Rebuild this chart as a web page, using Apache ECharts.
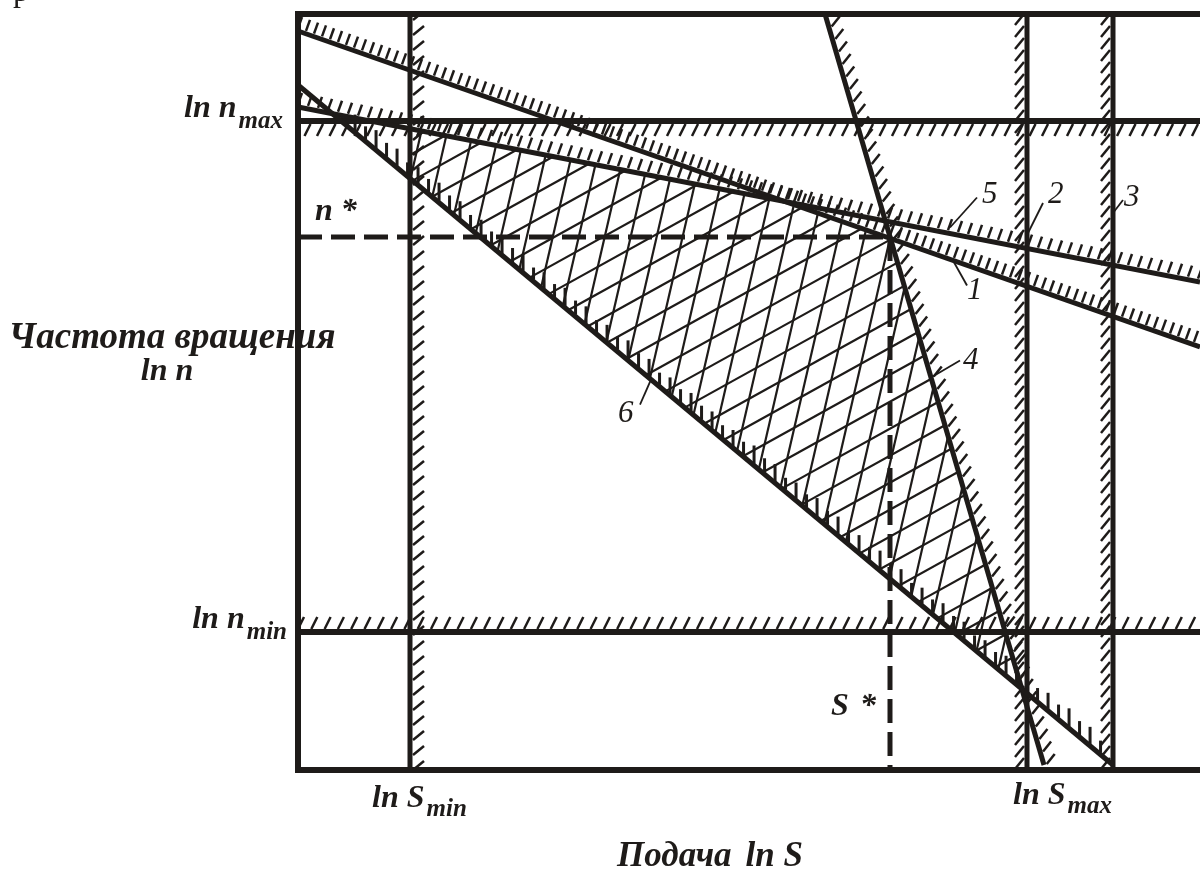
<!DOCTYPE html>
<html lang="ru">
<head>
<meta charset="utf-8">
<title>Подача и частота вращения</title>
<script src="https://cdn.jsdelivr.net/npm/echarts@6/dist/echarts.min.js"></script>
<style>
html,body{margin:0;padding:0;background:#fff;}
#chart{width:1200px;height:872px;}
</style>
</head>
<body>
<div id="chart"></div>
<script>
// ---- values: lnS along x, lnn along y (chart units) ----
const lnSExtent = [0, 9.02];
const lnNExtent = [0, 7.56];

const lnSmin = 1.12;   // ln S_min
const lnSmax = 7.29;   // ln S_max  (constraint 2)
const lnS3 = 8.15;     // constraint 3
const lnNmax = 6.49;   // ln n_max
const lnNmin = 1.38;   // ln n_min

const sOpt = 5.92;     // S*
const nOpt = 5.33;     // n*

// sloped constraints, end points [lnS, lnn]
const line1 = [[0, 7.39], [9.02, 4.23]];
const line5 = [[0, 6.63], [9.02, 4.88]];
const line4 = [[5.27, 7.56], [7.46, 0.05]];
const line6 = [[0, 6.85], [8.15, 0.05]];

// ---- derived geometry ----
const vLine = s => [[s, lnNExtent[0]], [s, lnNExtent[1]]];
const hLine = n => [[lnSExtent[0], n], [lnSExtent[1], n]];
const limSmin = vLine(lnSmin);
const limSmax = vLine(lnSmax);
const limS3 = vLine(lnS3);
const limNmax = hLine(lnNmax);
const limNmin = hLine(lnNmin);
const dashN = [[lnSExtent[0], nOpt], [sOpt, nOpt]];
const dashS = [[sOpt, nOpt], [sOpt, lnNExtent[0]]];

const INK = '#1e1b19';
const SERIF = '"Liberation Serif", "Times New Roman", serif';
const F_LABEL = 'italic bold 32px ' + SERIF;
const F_SUB = 'italic bold 25px ' + SERIF;
const F_TITLE = 'italic bold 37px ' + SERIF;
const F_XTITLE = 'italic bold 35px ' + SERIF;
const F_NUM = 'italic 31px ' + SERIF;

const mctx = document.createElement('canvas').getContext('2d');
function tw(text, font) { mctx.font = font; return mctx.measureText(text).width; }

function onLine(line, s) {
  const [a, b] = line;
  return [s, a[1] + (b[1] - a[1]) * (s - a[0]) / (b[0] - a[0])];
}

// hatch marks along each constraint (pixel styling)
const hatchSpecs = [
  { pts: limSmin, along: 1, step: 15,   base: [3, 0],  vec: [11, -9] },
  { pts: limSmax, along: 1, step: 12,   base: [-3, 0], vec: [-9, 11] },
  { pts: limS3,   along: 1, step: 12,   base: [-3, 0], vec: [-9, 11] },
  { pts: limNmax, along: 0, step: 12.5, base: [0, 3],  vec: [-6, 12] },
  { pts: limNmin, along: 0, step: 13.3, base: [0, -3], vec: [6, -12] },
  { pts: line1,   along: 0, step: 8,    base: [0, -3], vec: [4, -11] },
  { pts: line5,   along: 0, step: 10,   base: [0, -3], vec: [4, -11] },
  { pts: line4,   along: 1, step: 12.5, base: [3, 0],  vec: [8, -10] },
  { pts: line6,   along: 0, step: 10.5, base: [0, -2], vec: [0, -16],
    lens: [16, 13, 18, 14, 17, 12], width: 3, span: [0.07, 0.985] }
];

function renderHatch(params, api) {
  const spec = hatchSpecs[params.dataIndex];
  const p0 = api.coord(spec.pts[0]);
  const p1 = api.coord(spec.pts[1]);
  const span = spec.span || [0, 1];
  const len = Math.abs(p1[spec.along] - p0[spec.along]);
  const n = Math.floor(len * (span[1] - span[0]) / spec.step);
  const kids = [];
  for (let i = 0; i <= n; i++) {
    const t = span[0] + (i * spec.step) / len;
    const bx = p0[0] + (p1[0] - p0[0]) * t + spec.base[0];
    const by = p0[1] + (p1[1] - p0[1]) * t + spec.base[1];
    let vx = spec.vec[0], vy = spec.vec[1];
    if (spec.lens) { vy = -spec.lens[i % spec.lens.length]; }
    kids.push({
      type: 'line',
      shape: { x1: bx, y1: by, x2: bx + vx, y2: by + vy },
      style: { stroke: INK, lineWidth: spec.width || 2.5 }
    });
  }
  return { type: 'group', children: kids };
}

// feasible region: intersection of half-planes
function cross(line, p) {
  const [a, b] = line;
  return (b[0] - a[0]) * (p[1] - a[1]) - (b[1] - a[1]) * (p[0] - a[0]);
}
function clipPoly(poly, f) {
  const out = [];
  for (let i = 0; i < poly.length; i++) {
    const a = poly[i], b = poly[(i + 1) % poly.length];
    const fa = f(a), fb = f(b);
    if (fa >= 0) out.push(a);
    if ((fa >= 0) !== (fb >= 0)) {
      const t = fa / (fa - fb);
      out.push([a[0] + (b[0] - a[0]) * t, a[1] + (b[1] - a[1]) * t]);
    }
  }
  return out;
}
function feasibleRegion() {
  let poly = [
    [lnSExtent[0], lnNExtent[0]], [lnSExtent[1], lnNExtent[0]],
    [lnSExtent[1], lnNExtent[1]], [lnSExtent[0], lnNExtent[1]]
  ];
  const inner = [(lnSmin + sOpt) / 2, nOpt - 0.5];
  const side = line => { const s = Math.sign(cross(line, inner)); return p => s * cross(line, p); };
  [limSmin, limSmax, limNmax, line1, line5, line6, line4].forEach(l => { poly = clipPoly(poly, side(l)); });
  return poly;
}
const crossFamilies = [{ angle: -29, gap: 23.6, phase: 4 }, { angle: -77, gap: 25.3, phase: 10 }];

function renderCross(params, api) {
  const poly = feasibleRegion().map(p => api.coord(p));
  const kids = [];
  crossFamilies.forEach(fam => {
    const a = fam.angle * Math.PI / 180;
    const d = [Math.cos(a), Math.sin(a)];
    const nrm = [-d[1], d[0]];
    const proj = poly.map(p => p[0] * nrm[0] + p[1] * nrm[1]);
    const cmin = Math.min.apply(null, proj), cmax = Math.max.apply(null, proj);
    for (let c = Math.ceil((cmin - fam.phase) / fam.gap) * fam.gap + fam.phase; c <= cmax; c += fam.gap) {
      const pts = [];
      for (let i = 0; i < poly.length; i++) {
        const j = (i + 1) % poly.length;
        const sa = proj[i] - c, sb = proj[j] - c;
        if ((sa < 0) !== (sb < 0)) {
          const t = sa / (sa - sb);
          pts.push([poly[i][0] + (poly[j][0] - poly[i][0]) * t, poly[i][1] + (poly[j][1] - poly[i][1]) * t]);
        }
      }
      if (pts.length >= 2) {
        pts.sort((p, q) => (p[0] * d[0] + p[1] * d[1]) - (q[0] * d[0] + q[1] * d[1]));
        const A = pts[0], B = pts[pts.length - 1];
        kids.push({ type: 'line', shape: { x1: A[0], y1: A[1], x2: B[0], y2: B[1] },
          style: { stroke: INK, lineWidth: 2.2 } });
      }
    }
  });
  return { type: 'group', children: kids };
}

// numbered call-outs: point on constraint, leader vector, text offset from leader end
const callouts = [
  { text: '1', at: () => onLine(line1, 6.55), lead: [14, 25], txt: [0, 16] },
  { text: '2', at: () => [lnSmax, 5.35], lead: [16, -32], txt: [5, 2] },
  { text: '3', at: () => [lnS3, 5.57], lead: [10, -13], txt: [1, 8] },
  { text: '4', at: () => onLine(line4, 6.33), lead: [29, -17], txt: [3, 11] },
  { text: '5', at: () => onLine(line5, 6.52), lead: [27, -30], txt: [5, 8], from: [0, -6] },
  { text: '6', at: () => onLine(line6, 3.53), lead: [-11, 25], txt: [-22, 20] }
];

function renderLabels(params, api) {
  const o = api.coord([lnSExtent[0], lnNExtent[0]]);
  const xOf = s => api.coord([s, lnNExtent[0]])[0];
  const yOf = n => api.coord([lnSExtent[0], n])[1];
  const kids = [];
  const put = (text, x, base, font, size, align) => kids.push({
    type: 'text', x: x, y: base - 0.34 * size,
    style: { text: text, font: font, fill: INK, align: align || 'left', verticalAlign: 'middle',
      textAlign: align || 'left', textVerticalAlign: 'middle' }
  });
  const subRight = (main, sub, right, base, drop) => {
    const ws = tw(sub, F_SUB), wm = tw(main, F_LABEL);
    put(sub, right - ws, base + drop, F_SUB, 25);
    put(main, right - ws - 2 - wm, base, F_LABEL, 32);
  };
  const subLeft = (main, sub, left, base, drop) => {
    const wm = tw(main, F_LABEL);
    put(main, left, base, F_LABEL, 32);
    put(sub, left + wm + 2, base + drop, F_SUB, 25);
  };
  subRight('ln n', 'max', o[0] - 15, yOf(lnNmax) - 1, 10);
  subRight('ln n', 'min', o[0] - 11, yOf(lnNmin) - 1, 10);
  subLeft('ln S', 'min', xOf(lnSmin) - 38, o[1] + 40, 8);
  subLeft('ln S', 'max', xOf(lnSmax) - 14, o[1] + 37, 8);

  put('Частота вращения', o[0] - 126, o[1] - 419, F_TITLE, 37, 'center');
  put('ln n', o[0] - 131, o[1] - 387, F_LABEL, 32, 'center');
  const xt = o[0] + 319;
  put('Подача', xt, o[1] + 99, F_XTITLE, 35);
  put('ln S', xt + tw('Подача', F_XTITLE) + 14, o[1] + 99, F_XTITLE, 35);

  put('n *', o[0] + 17, yOf(nOpt) - 14, F_LABEL, 32);
  put('S', xOf(sOpt) - 59, o[1] - 52, F_LABEL, 32);
  put('*', xOf(sOpt) - 30, o[1] - 52, F_LABEL, 32);

  put('р', o[0] - 285, o[1] - 767, 'normal 32px ' + SERIF, 32);

  callouts.forEach(c => {
    const p = api.coord(c.at());
    const f = c.from || [0, 0];
    const sx = p[0] + f[0], sy = p[1] + f[1];
    const ex = sx + c.lead[0], ey = sy + c.lead[1];
    kids.push({ type: 'line', shape: { x1: sx, y1: sy, x2: ex, y2: ey }, style: { stroke: INK, lineWidth: 1.8 } });
    put(c.text, ex + c.txt[0], ey + c.txt[1], F_NUM, 31);
  });
  return { type: 'group', children: kids };
}

const solid = (data, width) => ({
  type: 'line', data: data, symbol: 'none', silent: true, clip: true, z: 5,
  lineStyle: { color: INK, width: width, cap: 'butt' }
});
const dashed = data => ({
  type: 'line', data: data, symbol: 'none', silent: true, clip: true, z: 5,
  lineStyle: { color: INK, width: 5, type: [24, 9] }
});

const axisFrame = { show: true, lineStyle: { color: INK, width: 6, cap: 'square' } };

const chart = echarts.init(document.getElementById('chart'));
chart.setOption({
  animation: false,
  backgroundColor: '#fff',
  grid: { left: 298, right: 0, top: 14, bottom: 102 },
  xAxis: [
    { type: 'value', min: lnSExtent[0], max: lnSExtent[1], position: 'bottom',
      axisLine: axisFrame, axisTick: { show: false }, axisLabel: { show: false }, splitLine: { show: false } },
    { type: 'value', min: lnSExtent[0], max: lnSExtent[1], position: 'top',
      axisLine: axisFrame, axisTick: { show: false }, axisLabel: { show: false }, splitLine: { show: false } }
  ],
  yAxis: { type: 'value', min: lnNExtent[0], max: lnNExtent[1],
    axisLine: axisFrame, axisTick: { show: false }, axisLabel: { show: false }, splitLine: { show: false } },
  series: [
    { type: 'custom', renderItem: renderCross, data: [[0, 0]], clip: true, silent: true, z: 2 },
    { type: 'custom', renderItem: renderHatch, data: hatchSpecs.map((s, i) => [i, 0]), clip: true, silent: true, z: 3 },
    solid(limSmin, 5), solid(limSmax, 5), solid(limS3, 5),
    solid(limNmax, 6), solid(limNmin, 6),
    solid(line1, 5), solid(line5, 5), solid(line4, 5), solid(line6, 5),
    dashed(dashN), dashed(dashS),
    { type: 'custom', renderItem: renderLabels, data: [[0, 0]], clip: false, silent: true, z: 10 }
  ]
});
</script>
</body>
</html>
